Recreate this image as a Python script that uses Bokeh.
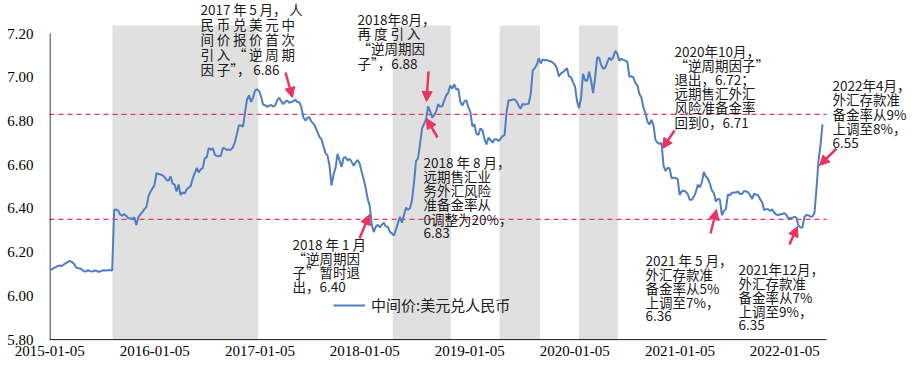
import pandas as pd
from bokeh.plotting import figure
from bokeh.models import (Range1d, FixedTicker, DatetimeTickFormatter, NumeralTickFormatter,
                          BoxAnnotation, Label, Arrow, NormalHead, Legend, LegendItem,
                          ColumnDataSource)
from bokeh.embed import file_html
from bokeh.resources import INLINE

# ---------------- data (weekly readings of the central parity) ----------------
year_starts = ["2015-01-05", "2016-01-04", "2017-01-02", "2018-01-01",
               "2019-01-07", "2020-01-06", "2021-01-04", "2022-01-03"]
v2015 = [6.125, 6.121, 6.128, 6.132, 6.137, 6.139, 6.137, 6.144,
         6.150, 6.156, 6.160, 6.155, 6.147, 6.131, 6.127, 6.126, 6.120,
         6.113, 6.112, 6.118, 6.113, 6.112, 6.115, 6.116, 6.111, 6.112,
         6.116, 6.117, 6.116, 6.117, 6.117, 6.116, 6.394, 6.395, 6.390,
         6.372, 6.367, 6.374, 6.366, 6.355, 6.355, 6.352, 6.360,
         6.325, 6.360, 6.373, 6.383, 6.397, 6.406, 6.455, 6.476, 6.491]
v2016 = [6.506, 6.561, 6.559, 6.556, 6.552, 6.544, 6.530, 6.527, 6.547,
         6.515, 6.509, 6.478, 6.510, 6.461, 6.474, 6.468, 6.487,
         6.495, 6.502, 6.536, 6.560, 6.585, 6.565, 6.579, 6.584, 6.630,
         6.634, 6.676, 6.669, 6.675, 6.646, 6.640, 6.639, 6.641, 6.677,
         6.674, 6.668, 6.670, 6.668, 6.679, 6.704, 6.740, 6.781, 6.779,
         6.774, 6.837, 6.899, 6.917, 6.887, 6.907, 6.939, 6.945]
v2017 = [6.937, 6.912, 6.875, 6.872, 6.865, 6.869, 6.873, 6.866, 6.870,
         6.894, 6.906, 6.890, 6.877, 6.888, 6.893, 6.883, 6.887,
         6.890, 6.898, 6.886, 6.886, 6.863, 6.817, 6.802, 6.815, 6.817,
         6.797, 6.788, 6.772, 6.750, 6.727, 6.717, 6.684, 6.653, 6.643,
         6.596, 6.505, 6.555, 6.585, 6.650, 6.620, 6.590, 6.632, 6.634,
         6.620, 6.627, 6.613, 6.595, 6.611, 6.622, 6.604, 6.567]
v2018 = [6.534, 6.493, 6.443, 6.412, 6.325, 6.292, 6.317, 6.325, 6.313,
         6.326, 6.335, 6.317, 6.316, 6.293, 6.286, 6.276, 6.303, 6.333,
         6.362, 6.335, 6.370, 6.403, 6.394, 6.401, 6.439, 6.519,
         6.617, 6.630, 6.695, 6.767, 6.786, 6.810, 6.867, 6.845, 6.815,
         6.826, 6.844, 6.877, 6.866, 6.867, 6.893, 6.917, 6.930, 6.962,
         6.948, 6.968, 6.944, 6.947, 6.889, 6.870, 6.889, 6.895, 6.863]
v2019 = [6.842, 6.775, 6.785, 6.741, 6.736, 6.766, 6.759, 6.719,
         6.693, 6.724, 6.714, 6.701, 6.716, 6.716, 6.708, 6.718, 6.731,
         6.735, 6.842, 6.895, 6.895, 6.898, 6.898, 6.889, 6.870,
         6.856, 6.878, 6.875, 6.877, 6.880, 6.923, 7.032, 7.042, 7.057,
         7.087, 7.063, 7.082, 7.077, 7.080, 7.073, 7.073, 7.066, 7.058,
         7.040, 7.003, 7.018, 7.023, 7.032, 7.041, 7.004, 7.001, 6.978]
v2020 = [6.958, 6.892, 6.858, 6.904, 7.016, 6.986, 6.983, 7.025,
         6.985, 6.927, 6.998, 7.090, 7.089, 7.056, 7.039, 7.043, 7.067,
         7.090, 7.078, 7.092, 7.120, 7.109, 7.076, 7.084, 7.079, 7.076,
         7.070, 7.003, 7.004, 6.999, 6.974, 6.963, 6.924, 6.906, 6.861,
         6.836, 6.797, 6.784, 6.805, 6.780, 6.713, 6.701, 6.695,
         6.700, 6.595, 6.571, 6.585, 6.584, 6.538, 6.541, 6.538, 6.536]
v2021 = [6.461, 6.479, 6.481, 6.477, 6.466, 6.440, 6.440, 6.453,
         6.473, 6.509, 6.496, 6.518, 6.567, 6.546, 6.537, 6.514, 6.483,
         6.471, 6.432, 6.444, 6.441, 6.368, 6.389, 6.398, 6.465, 6.460,
         6.472, 6.473, 6.473, 6.478, 6.466, 6.466, 6.480, 6.478, 6.474,
         6.460, 6.443, 6.468, 6.463, 6.461, 6.442, 6.428, 6.393,
         6.397, 6.396, 6.388, 6.396, 6.381, 6.373, 6.368, 6.375, 6.374]
v2022 = [6.379, 6.371, 6.354, 6.356, 6.357, 6.362, 6.358, 6.323, 6.313,
         6.313, 6.361, 6.370, 6.369, 6.362, 6.363, 6.379, 6.490,
         6.618, 6.690, 6.785]
yearly_values = [v2015, v2016, v2017, v2018, v2019, v2020, v2021, v2022]

series_name = "中间价:美元兑人民币"
tick_dates = ["2015-01-05", "2016-01-05", "2017-01-05", "2018-01-05",
              "2019-01-05", "2020-01-05", "2021-01-05", "2022-01-05"]
y_ticks = [5.8, 6.0, 6.2, 6.4, 6.6, 6.8, 7.0, 7.2]
ref_levels = [6.83, 6.35]
band_starts = ["2015-08-11", "2018-04-12", "2019-04-19", "2020-01-20"]
band_ends = ["2016-12-30", "2018-10-31", "2019-09-06", "2020-06-03"]

# ---------------- build the series ----------------
dates, vals = [], []
for start, vs in zip(year_starts, yearly_values):
    dates.extend(pd.date_range(start, periods=len(vs), freq="7D"))
    vals.extend(vs)
src = ColumnDataSource(data=dict(date=dates, val=vals))

def ms(d):
    return pd.Timestamp(d).value / 1e6

# ---------------- layout (picture pixels -> data) ----------------
W, H = 918, 363
BORDER_L, BORDER_B = 49, 23
FRAME_L = BORDER_L
FRAME_T = 0
FRAME_B = H - BORDER_B
FRAME_R = W

X0 = ms("2015-01-04")
MS_PER_PX = 365.25 * 86400000 / 105.0
Y_TOP_PX = 33.0
Y_BOT_PX = FRAME_B - 0.8
PPU = (Y_BOT_PX - Y_TOP_PX) / 1.4

def xd(px):
    return X0 + (px - FRAME_L) * MS_PER_PX

def yd(py):
    return 7.2 - (py - Y_TOP_PX) / PPU

RED = "#E8355F"
BLUE = "#4F7EC1"
CJK = "Noto Sans CJK SC"
AX_END_PX = 826
TS = "\u2009"  # thin space used to widen the justified first note

p = figure(width=W, height=H, x_axis_type="datetime",
           output_backend="svg", toolbar_location=None,
           x_range=Range1d(xd(FRAME_L), xd(FRAME_R)),
           y_range=Range1d(yd(FRAME_B), yd(FRAME_T)),
           min_border_left=BORDER_L, min_border_right=0,
           min_border_top=0, min_border_bottom=BORDER_B)
p.outline_line_color = None
p.grid.visible = False
p.background_fill_color = "white"

for s, e in zip(band_starts, band_ends):
    p.add_layout(BoxAnnotation(left=ms(s), right=ms(e), bottom=5.8, top=yd(25),
                               fill_color="#E0E0E0", fill_alpha=1.0,
                               line_alpha=0, level="underlay"))

# dashed reference levels
p.segment(x0=[xd(FRAME_L)] * len(ref_levels), x1=[xd(AX_END_PX)] * len(ref_levels),
          y0=ref_levels, y1=ref_levels, line_color=RED, line_dash="5 4", line_width=1.3)

# axis lines of the plot area
p.segment(x0=[xd(FRAME_L), xd(FRAME_L + 0.5)], x1=[xd(AX_END_PX), xd(FRAME_L + 0.5)],
          y0=[5.8, 5.8], y1=[5.8, 7.2], line_color="black", line_width=1)

r = p.line("date", "val", source=src, line_color=BLUE, line_width=2)

# axes (ticks and labels)
p.xaxis.ticker = FixedTicker(ticks=[ms(d) for d in tick_dates])
p.xaxis.formatter = DatetimeTickFormatter(days="%Y-%m-%d", months="%Y-%m-%d",
                                          years="%Y-%m-%d")
p.yaxis.ticker = FixedTicker(ticks=y_ticks)
p.yaxis.formatter = NumeralTickFormatter(format="0.00")
for ax in (p.xaxis, p.yaxis):
    ax.axis_line_color = None
    ax.major_tick_line_color = None
    ax.minor_tick_line_color = None
    ax.major_tick_out = 0
    ax.major_tick_in = 0
    ax.minor_tick_out = 0
    ax.major_label_text_font = "Liberation Serif"
    ax.major_label_text_font_size = "15px"
    ax.major_label_text_color = "black"
p.yaxis.major_label_standoff = 16
p.xaxis.major_label_standoff = 5

legend = Legend(items=[LegendItem(label=series_name, renderers=[r])],
                location=(333 - FRAME_L, FRAME_B - 306 - 9), glyph_width=32,
                glyph_height=18, label_height=18, label_standoff=6, padding=0,
                margin=0, border_line_color=None, background_fill_alpha=0,
                label_text_font=CJK, label_text_font_size="15px",
                label_text_color="#222222")
p.add_layout(legend)

# ---------------- annotations ----------------
note1 = ["2017" + TS + "年" + TS + "5" + TS + "月，" + TS + "人",
         TS.join("民币兑美元中"),
         TS.join("间价报价首次"),
         TS.join("引入“逆周期"),
         "因" + TS + "子”，" + TS + "6.86"]
notes = [
    (200, 8, 15.2, note1),
    (357, 18, 14.7, ["2018年8月，", "再 度 引 入", "“逆周期因", "子”，6.88"]),
    (423, 161, 14.3, ["2018 年 8 月，", "远期售汇业", "务外汇风险", "准备金率从", "0调整为20%，", "6.83"]),
    (292, 243, 14.2, ["2018 年 1 月", "“逆周期因", "子”暂时退", "出，6.40"]),
    (674, 50, 14.2, ["2020年10月，", "“逆周期因子”", "退出，6.72；", "远期售汇外汇", "风险准备金率", "回到0，6.71"]),
    (832, 84, 14.5, ["2022年4月，", "外汇存款准", "备金率从9%", "上调至8%，", "6.55"]),
    (645, 259, 14.0, ["2021 年 5 月，", "外汇存款准", "备金率从5%", "上调至7%，", "6.36"]),
    (738, 268, 14.2, ["2021年12月，", "外汇存款准", "备金率从7%", "上调至9%，", "6.35"]),
]
for px, py, step, lines in notes:
    for i, t in enumerate(lines):
        p.add_layout(Label(x=xd(px), y=yd(py + i * step), text=t,
                           text_baseline="middle", text_align="left",
                           text_font=CJK, text_font_size="13.5px",
                           text_color="#1a1a1a"))

arrows = [
    ((285, 72), (292, 97)),
    ((428, 71), (426, 101)),
    ((437, 137), (426, 118)),
    ((359, 238), (369, 214)),
    ((674, 130), (662, 148)),
    ((836, 148), (819, 165)),
    ((710, 233), (716, 209)),
    ((789, 244), (797, 226)),
]
for (x0, y0), (x1, y1) in arrows:
    p.add_layout(Arrow(end=NormalHead(size=10, fill_color=RED, line_color=RED),
                       x_start=xd(x0), y_start=yd(y0), x_end=xd(x1), y_end=yd(y1),
                       line_color=RED, line_width=2.5))

open("out.html", "w").write(file_html(p, INLINE))
